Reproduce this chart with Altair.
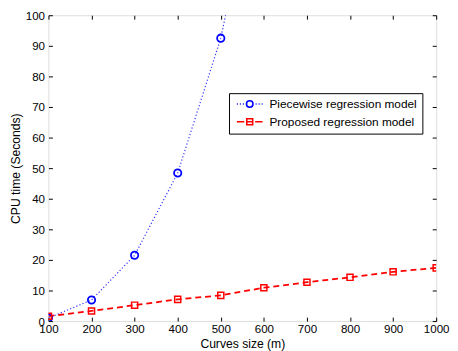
import altair as alt
import pandas as pd

# ---- data ----
sizes = [100, 200, 300, 400, 500, 600, 700, 800, 900, 1000]
piecewise_sizes = [100, 200, 300, 400, 500, 600]
piecewise_time = [1.0, 6.9, 21.5, 48.4, 92.5, 160.0]
proposed_time = [1.6, 3.3, 5.2, 7.1, 8.4, 10.9, 12.7, 14.3, 16.1, 17.4]

series_names = ["Piecewise regression model", "Proposed regression model"]
series_colors = ["#0000ff", "#ff0000"]
x_ticks = [100, 200, 300, 400, 500, 600, 700, 800, 900, 1000]
y_ticks = [0, 10, 20, 30, 40, 50, 60, 70, 80, 90, 100]

df = pd.concat([
    pd.DataFrame({"x": piecewise_sizes, "y": piecewise_time, "series": series_names[0]}),
    pd.DataFrame({"x": sizes, "y": proposed_time, "series": series_names[1]}),
], ignore_index=True)

FONT = "Liberation Sans"
xs = alt.Scale(domain=[100, 1000], nice=False, zero=False)
ys = alt.Scale(domain=[0, 100], nice=False)
cs = alt.Scale(domain=series_names, range=series_colors)

# legend symbols (unit = 5 px for symbolSize 100): line + marker as custom paths
circle_sym = ("M-0.6,0L-0.4,0M0,0L0.2,0M0.6,0L0.8,0"
              "M3.2,0L3.4,0M3.8,0L4,0M4.4,0L4.6,0"
              "M1.34,0A0.66,0.66,0,1,0,2.66,0A0.66,0.66,0,1,0,1.34,0Z")
square_sym = ("M-0.6,0L0.9,0M3.1,0L4.6,0"
              "M1.4,-0.6L2.6,-0.6L2.6,0.6L1.4,0.6Z M1.4,0L2.6,0")

ax_bottom = alt.Axis(orient="bottom", values=x_ticks, format="d", offset=-4, tickSize=4,
                     domain=False, grid=False, labelFontSize=11.7, labelFont=FONT,
                     labelColor="black", labelPadding=3, tickColor="black",
                     title="Curves size (m)", titleFont=FONT, titleFontSize=12.3,
                     titleFontWeight="normal", titleColor="black", titlePadding=2,
                     labelFlush=False)
ax_left = alt.Axis(orient="left", values=y_ticks, format="d", offset=-4, tickSize=4,
                   domain=False, grid=False, labelFontSize=11.7, labelFont=FONT,
                   labelColor="black", labelPadding=4, tickColor="black",
                   title="CPU time (Seconds)", titleFont=FONT, titleFontSize=12.3,
                   titleFontWeight="normal", titleColor="black", titlePadding=3,
                   labelFlush=False)
ax_top = alt.Axis(orient="top", values=x_ticks, offset=-4, tickSize=4, domain=False,
                  grid=False, labels=False, tickColor="black", title=None)
ax_right = alt.Axis(orient="right", values=y_ticks, offset=-4, tickSize=4, domain=False,
                    grid=False, labels=False, tickColor="black", title=None)

base = alt.Chart(df)
blue_data = base.transform_filter(alt.datum.series == series_names[0])
red_data = base.transform_filter(alt.datum.series == series_names[1])

blue_line = blue_data.mark_line(
    strokeDash=[1.2, 2.2], strokeWidth=1.2, clip=True, opacity=0.8
).encode(
    x=alt.X("x:Q", scale=xs, axis=ax_bottom),
    y=alt.Y("y:Q", scale=ys, axis=ax_left),
    color=alt.value(series_colors[0]),
)

red_line = red_data.mark_line(
    strokeDash=[6, 4], strokeWidth=1.8, clip=True
).encode(
    x=alt.X("x:Q", scale=xs, axis=ax_top),
    y=alt.Y("y:Q", scale=ys, axis=ax_right),
    color=alt.value(series_colors[1]),
)

blue_pts = blue_data.mark_point(
    shape="circle", size=55, strokeWidth=1.8, filled=False, clip=True, opacity=1
).encode(
    x=alt.X("x:Q", scale=xs, axis=None),
    y=alt.Y("y:Q", scale=ys, axis=None),
    color=alt.value(series_colors[0]),
)

red_pts = red_data.mark_point(
    shape="square", size=38, strokeWidth=1.5, filled=False, clip=True, opacity=1
).encode(
    x=alt.X("x:Q", scale=xs, axis=None),
    y=alt.Y("y:Q", scale=ys, axis=None),
    color=alt.value(series_colors[1]),
)

legend_props = dict(
    title=None, orient="none", legendX=183, legendY=79,
    strokeColor="black", fillColor="white", padding=5,
    symbolSize=100, symbolStrokeWidth=1.6, symbolFillColor="transparent",
    symbolOpacity=1, labelFont=FONT, labelFontSize=12, labelColor="black",
    labelOffset=24, rowPadding=4, cornerRadius=0,
)

legend_layer = base.transform_filter("false").mark_point(filled=False, opacity=1).encode(
    x=alt.X("x:Q", scale=xs, axis=None),
    y=alt.Y("y:Q", scale=ys, axis=None),
    color=alt.Color("series:N", scale=cs, legend=alt.Legend(**legend_props)),
    shape=alt.Shape("series:N", scale=alt.Scale(domain=series_names,
                                                range=[circle_sym, square_sym]),
                    legend=alt.Legend(**legend_props)),
)

chart = alt.layer(blue_line, red_line, blue_pts, red_pts, legend_layer).resolve_axis(
    x="independent", y="independent"
).properties(
    width=393, height=310,
    padding={"left": 41, "top": 5, "right": 14, "bottom": 28},
    autosize=alt.AutoSizeParams(type="none"),
).configure_view(stroke="black", strokeWidth=1).configure(background="white")

chart.save("out.html", embed_options={"renderer": "svg", "actions": False})
